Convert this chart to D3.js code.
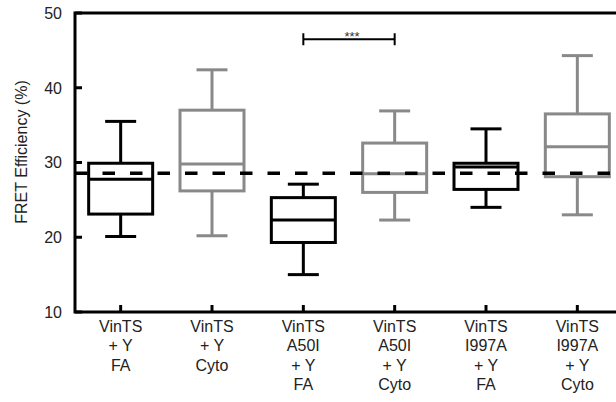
<!DOCTYPE html>
<html>
<head>
<meta charset="utf-8">
<script src="https://cdn.jsdelivr.net/npm/d3@7"></script>
<style>
  body { margin: 0; background: #fff; }
  svg { display: block; font-family: "Liberation Sans", Arial, sans-serif; }
</style>
</head>
<body>
<svg class="chart" width="616" height="402"></svg>
<script>
// data
const categories = ["VinTS_Y_FA", "VinTS_Y_Cyto", "A50I_Y_FA", "A50I_Y_Cyto", "I997A_Y_FA", "I997A_Y_Cyto"];
const tickLabels = [
    ["VinTS", "+ Y", "FA"],
    ["VinTS", "+ Y", "Cyto"],
    ["VinTS", "A50I", "+ Y", "FA"],
    ["VinTS", "A50I", "+ Y", "Cyto"],
    ["VinTS", "I997A", "+ Y", "FA"],
    ["VinTS", "I997A", "+ Y", "Cyto"]
];
const whiskerLow  = [20.1, 20.2, 15.0, 22.3, 24.0, 23.0];
const q1          = [23.1, 26.2, 19.3, 26.0, 26.4, 28.1];
const median      = [27.75, 29.8, 22.3, 28.5, 29.4, 32.1];
const q3          = [29.9, 37.0, 25.3, 32.6, 29.9, 36.5];
const whiskerHigh = [35.5, 42.4, 27.1, 36.9, 34.5, 44.3];
const isCyto      = [false, true, false, true, false, true];
const referenceLine = 28.55;
const yTicks = [10, 20, 30, 40, 50];
const sigPair = ["A50I_Y_FA", "A50I_Y_Cyto"];
const sigLevel = 46.5; // bracket height in % units

const margin = {top: 13, right: 0, bottom: 90, left: 75};
const width = 616, height = 402;
const plotBottom = height - margin.bottom;

const svg = d3.select(".chart");

const x = d3.scalePoint()
    .domain(categories)
    .range([margin.left, 623])
    .padding(0.5);

const y = d3.scaleLinear()
    .domain([10, 50])
    .range([plotBottom, margin.top]);

const black = "#000", gray = "#898989";
const boxW = 64, capW = 31, sw = 3;

const data = categories.map((c, i) => ({
    key: c, lo: whiskerLow[i], q1: q1[i], med: median[i], q3: q3[i], hi: whiskerHigh[i],
    colour: isCyto[i] ? gray : black, labels: tickLabels[i]
}));

// frame: top line, left axis, bottom axis
svg.append("path")
    .attr("d", `M${width},${margin.top}H${margin.left}V${plotBottom}H${width}`)
    .attr("fill", "none")
    .attr("stroke", "#000")
    .attr("stroke-width", sw);

// y ticks (inward) + labels
const yAxis = svg.append("g");
yAxis.selectAll(".ytick")
    .data(yTicks)
    .enter().append("line")
    .attr("x1", margin.left).attr("x2", margin.left + 7)
    .attr("y1", d => y(d)).attr("y2", d => y(d))
    .attr("stroke", "#000").attr("stroke-width", sw);
yAxis.selectAll(".ylab")
    .data(yTicks)
    .enter().append("text")
    .attr("x", 62)
    .attr("y", d => y(d))
    .attr("dy", "0.36em")
    .attr("text-anchor", "end")
    .style("font-size", "16px")
    .style("fill", "#222")
    .text(d => d);

svg.append("text")
    .attr("transform", `translate(27,152) rotate(-90)`)
    .attr("text-anchor", "middle")
    .style("font-size", "16px")
    .style("fill", "#222")
    .text("FRET Efficiency (%)");

// x ticks (inward) + multi-line labels
svg.selectAll(".xtick")
    .data(categories)
    .enter().append("line")
    .attr("x1", d => x(d)).attr("x2", d => x(d))
    .attr("y1", plotBottom).attr("y2", plotBottom - 7)
    .attr("stroke", "#000").attr("stroke-width", sw);

const xl = svg.selectAll(".xlab")
    .data(data)
    .enter().append("text")
    .attr("text-anchor", "middle")
    .style("font-size", "16px")
    .style("fill", "#222");
xl.selectAll("tspan")
    .data(d => d.labels.map(t => ({t, cx: x(d.key)})))
    .enter().append("tspan")
    .attr("x", d => d.cx)
    .attr("y", (d, i) => 331.5 + i * 19.5)
    .text(d => d.t);

// boxes
const g = svg.selectAll(".box")
    .data(data)
    .enter().append("g")
    .attr("class", "box")
    .attr("stroke", d => d.colour)
    .attr("stroke-width", sw)
    .attr("fill", "none");

g.append("line")
    .attr("x1", d => x(d.key)).attr("x2", d => x(d.key))
    .attr("y1", d => y(d.hi)).attr("y2", d => y(d.q3));
g.append("line")
    .attr("x1", d => x(d.key)).attr("x2", d => x(d.key))
    .attr("y1", d => y(d.q1)).attr("y2", d => y(d.lo));
g.append("line")
    .attr("x1", d => x(d.key) - capW / 2).attr("x2", d => x(d.key) + capW / 2)
    .attr("y1", d => y(d.hi)).attr("y2", d => y(d.hi));
g.append("line")
    .attr("x1", d => x(d.key) - capW / 2).attr("x2", d => x(d.key) + capW / 2)
    .attr("y1", d => y(d.lo)).attr("y2", d => y(d.lo));
g.append("rect")
    .attr("x", d => x(d.key) - boxW / 2)
    .attr("width", boxW)
    .attr("y", d => y(d.q3))
    .attr("height", d => y(d.q1) - y(d.q3));
g.append("line")
    .attr("x1", d => x(d.key) - boxW / 2).attr("x2", d => x(d.key) + boxW / 2)
    .attr("y1", d => y(d.med)).attr("y2", d => y(d.med));

// dashed reference line
svg.append("line")
    .attr("x1", margin.left).attr("x2", width)
    .attr("y1", y(referenceLine)).attr("y2", y(referenceLine))
    .attr("stroke", "#000")
    .attr("stroke-width", 3.5)
    .attr("stroke-dasharray", "12.5,15");

// significance bracket
const bx1 = x(sigPair[0]), bx2 = x(sigPair[1]), by = y(sigLevel);
svg.append("path")
    .attr("d", `M${bx1},${by - 6}V${by + 6}M${bx1},${by}H${bx2}M${bx2},${by - 6}V${by + 6}`)
    .attr("fill", "none")
    .attr("stroke", "#000")
    .attr("stroke-width", 2);
svg.append("text")
    .attr("x", (bx1 + bx2) / 2 + 3)
    .attr("y", by + 1.5)
    .attr("text-anchor", "middle")
    .style("font-size", "13px")
    .style("fill", "#333")
    .text("***");
</script>
</body>
</html>
